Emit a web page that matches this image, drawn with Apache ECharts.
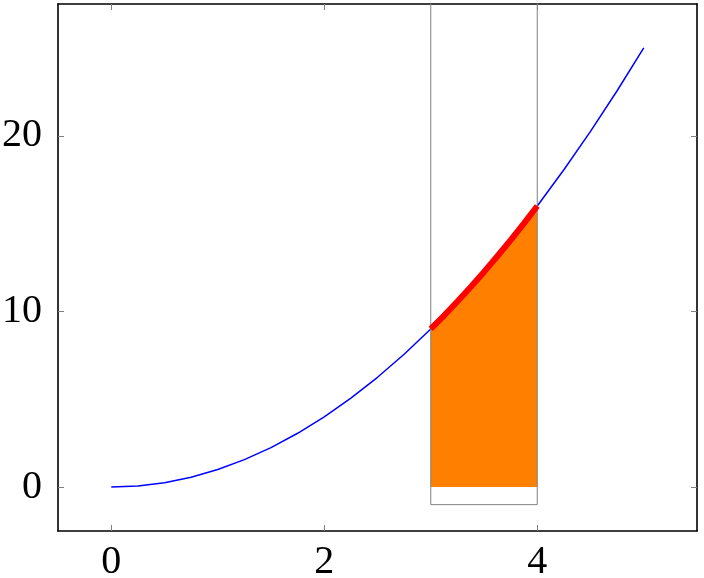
<!DOCTYPE html>
<html>
<head>
<meta charset="utf-8">
<script src="https://cdn.jsdelivr.net/npm/echarts@6/dist/echarts.min.js"></script>
<style>
html,body{margin:0;padding:0;background:#fff;}
#c{width:704px;height:578px;}
</style>
</head>
<body>
<div id="c"></div>
<script>
// curve y = x^2
var curveX = [0,0.25,0.5,0.75,1,1.25,1.5,1.75,2,2.25,2.5,2.75,3,3.25,3.5,3.75,4,4.25,4.5,4.75,5];
var curveY = [0,0.0625,0.25,0.5625,1,1.5625,2.25,3.0625,4,5.0625,6.25,7.5625,9,10.5625,12.25,14.0625,16,18.0625,20.25,22.5625,25];
// highlighted segment / filled area
var segX = [3,3.125,3.25,3.375,3.5,3.625,3.75,3.875,4];
var segY = [9,9.765625,10.5625,11.390625,12.25,13.140625,14.0625,15.015625,16];
// gray rectangle (top beyond axis)
var rectX = [3,3,4,4];
var rectY = [40,-1,-1,40];
// ticks
var xTicks = [0,2,4];
var yTicks = [0,10,20];
var xRange = [-0.5,5.5];
var yRange = [-2.5,27.5];

function pairs(xs, ys){ return xs.map(function(x,i){ return [x, ys[i]]; }); }

var font = {fontFamily:'Liberation Serif', fontSize:40, color:'#000'};
var tickStyle = {show:true, inside:true, length:6, lineStyle:{color:'#808080', width:1}};
var lineSt = {show:true, onZero:false, lineStyle:{color:'#000', width:1.6}};

var chart = echarts.init(document.getElementById('c'), null, {renderer:'canvas'});
chart.setOption({
  animation:false,
  backgroundColor:'#fff',
  grid:{left:58, top:4, right:7, bottom:47, containLabel:false, outerBoundsMode:'none'},
  xAxis:[
    {type:'value', min:xRange[0], max:xRange[1], position:'bottom',
     axisLine:lineSt, splitLine:{show:false},
     axisTick:Object.assign({customValues:xTicks}, tickStyle),
     axisLabel:Object.assign({customValues:xTicks, margin:11, formatter:function(v){return String(v);}}, font)},
    {type:'value', min:xRange[0], max:xRange[1], position:'top',
     axisLine:lineSt, splitLine:{show:false},
     axisTick:Object.assign({customValues:xTicks}, tickStyle),
     axisLabel:{show:false}}
  ],
  yAxis:[
    {type:'value', min:yRange[0], max:yRange[1], position:'left',
     axisLine:lineSt, splitLine:{show:false},
     axisTick:Object.assign({customValues:yTicks}, tickStyle),
     axisLabel:Object.assign({customValues:yTicks, margin:16, formatter:function(v){return String(v);}}, font)},
    {type:'value', min:yRange[0], max:yRange[1], position:'right',
     axisLine:lineSt, splitLine:{show:false},
     axisTick:Object.assign({customValues:yTicks}, tickStyle),
     axisLabel:{show:false}}
  ],
  series:[
    {type:'line', data:pairs(curveX, curveY), showSymbol:false, symbol:'none',
     lineStyle:{color:'#0000ff', width:1.5}, z:2},
    {type:'line', data:pairs(segX, segY), showSymbol:false, symbol:'none',
     lineStyle:{width:0, color:'#ff8000'}, areaStyle:{color:'#ff8000', opacity:1, origin:0}, z:3},
    {type:'line', data:pairs(rectX, rectY), showSymbol:false, symbol:'none',
     lineStyle:{color:'#808080', width:1}, z:4},
    {type:'line', data:pairs(segX, segY), showSymbol:false, symbol:'none',
     lineStyle:{color:'#ff0000', width:6, cap:'butt'}, z:5}
  ]
});
</script>
</body>
</html>
